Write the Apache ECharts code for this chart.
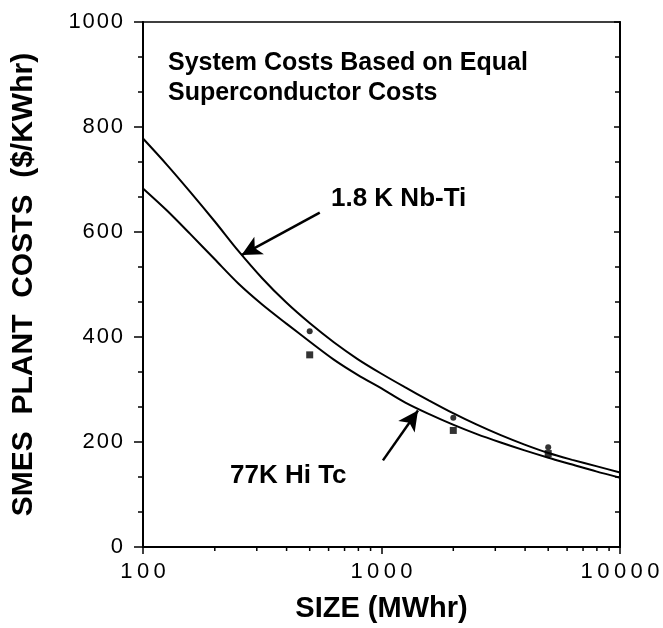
<!DOCTYPE html>
<html>
<head>
<meta charset="utf-8">
<script src="https://cdn.jsdelivr.net/npm/echarts@6/dist/echarts.min.js"></script>
<style>html,body{margin:0;padding:0;background:#fff;}#c{width:663px;height:628px;}</style>
</head>
<body>
<div id="c"></div>
<script>
// ---- data ----
var sizes = [100,126,158,200,251,316,398,501,631,794,1000,1259,1585,1995,2512,3162,3981,5012,6310,7943,10000];
var nbtiCost = [778,728,676,620,564,512,466,426,390,358,330,304,279,255,233,213,195,179,166,154,142];
var hitcCost = [683,641,596,548,502,462,426,391,357,328,302,275,253,233,215,199,184,170,157,144,132];
var pointSizes = [500,2000,5000];
var nbtiPoints = [411,246,190];
var hitcPoints = [366,222,178];
var xMinorTicks = [200,300,400,500,600,700,800,900,2000,3000,4000,5000,6000,7000,8000,9000];
var arrowNbti = [[551,637],[259,556]];
var arrowHitc = [[1014,165],[1422,260]];

var FONT = 'Liberation Sans';
function spaced(s, sp){ return String(s).split('').join(sp); }
function zip(xs, ys){ return xs.map(function(x,i){ return [x, ys[i]]; }); }

var chart = echarts.init(document.getElementById('c'));
chart.setOption({
  backgroundColor: '#fff',
  animation: false,
  grid: {left: 143, right: 43, top: 22, bottom: 81, show: true, borderColor: '#000', borderWidth: 1.5},
  xAxis: {
    type: 'log', logBase: 10, min: 100, max: 10000,
    name: 'SIZE (MWhr)', nameLocation: 'middle', nameGap: 47,
    nameTextStyle: {fontFamily: FONT, fontWeight: 'bold', fontSize: 29, color: '#000'},
    axisLine: {lineStyle: {color: '#000', width: 2}},
    axisTick: {show: true, length: 7, lineStyle: {color: '#000', width: 1.5}},
    splitLine: {show: false},
    axisLabel: {margin: 14, fontFamily: FONT, fontSize: 22, color: '#000', formatter: function(v){return spaced(v,'\u2009');}}
  },
  yAxis: [{
    type: 'value', min: 0, max: 1000, interval: 200,
    name: 'SMES  PLANT  COSTS  ($/KWhr)', nameLocation: 'middle', nameGap: 104,
    nameTextStyle: {fontFamily: FONT, fontWeight: 'bold', fontSize: 30, color: '#000'},
    axisLine: {show: true, lineStyle: {color: '#000', width: 2}},
    axisTick: {show: true, length: 9, lineStyle: {color: '#000', width: 1.5}},
    minorTick: {show: true, splitNumber: 3, length: 5, lineStyle: {color: '#000', width: 1.5}},
    splitLine: {show: false}, minorSplitLine: {show: false},
    axisLabel: {margin: 20, fontFamily: FONT, fontSize: 22, color: '#000', formatter: function(v){return spaced(v,'\u200A');}}
  },{
    type: 'value', min: 0, max: 1000, interval: 200, position: 'right',
    axisLine: {show: true, lineStyle: {color: '#000', width: 2}},
    axisTick: {show: true, inside: true, length: 6, lineStyle: {color: '#000', width: 1.5}},
    minorTick: {show: true, splitNumber: 3, length: 5, lineStyle: {color: '#000', width: 1.5}},
    splitLine: {show: false}, axisLabel: {show: false}
  }],
  series: [
    {type: 'line', data: zip(sizes, nbtiCost), smooth: 0.3, symbol: 'none', lineStyle: {color: '#000', width: 2},
     markLine: {silent: true, symbol: ['none','arrow'], symbolSize: [15, 20], label: {show: false},
       lineStyle: {color: '#000', width: 2.5, type: 'solid'},
       data: [[{coord: arrowNbti[0]}, {coord: arrowNbti[1]}], [{coord: arrowHitc[0]}, {coord: arrowHitc[1]}]]}},
    {type: 'line', data: zip(sizes, hitcCost), smooth: 0.3, symbol: 'none', lineStyle: {color: '#000', width: 2}},
    {type: 'scatter', data: zip(pointSizes, nbtiPoints), symbol: 'circle', symbolSize: 6, itemStyle: {color: '#000'}},
    {type: 'scatter', data: zip(pointSizes, hitcPoints), symbol: 'rect', symbolSize: 7, itemStyle: {color: '#000'}},
    {type: 'custom', data: xMinorTicks.map(function(v){return [v,0];}), clip: false, silent: true,
     renderItem: function(params, api){
       var p = api.coord([api.value(0), 0]);
       return {type: 'line', shape: {x1: p[0], y1: p[1], x2: p[0], y2: p[1] + 4}, style: {stroke: '#000', lineWidth: 1.5}};
     }}
  ],
  graphic: [
    {type: 'text', left: 168, top: 48, style: {text: 'System Costs Based on Equal\nSuperconductor Costs', font: 'bold 25px "Liberation Sans"', fill: '#000', lineHeight: 30}},
    {type: 'text', left: 331, top: 186, style: {text: '1.8 K Nb-Ti', font: 'bold 26px "Liberation Sans"', fill: '#000'}},
    {type: 'text', left: 230, top: 463, style: {text: '77K Hi Tc', font: 'bold 26px "Liberation Sans"', fill: '#000'}}
  ]
});
</script>
</body>
</html>
